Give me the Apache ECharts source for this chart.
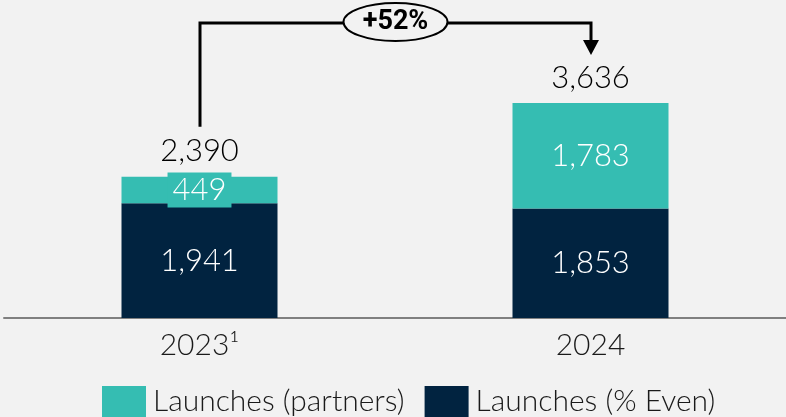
<!DOCTYPE html>
<html>
<head>
<meta charset="utf-8">
<script src="https://cdn.jsdelivr.net/npm/echarts@6/dist/echarts.min.js"></script>
<style>
  html, body { margin: 0; padding: 0; background: #f2f2f2; }
  #main { width: 786px; height: 417px; }
</style>
</head>
<body>
<div id="main"></div>
<script>
// chart data
const years = ['2023¹', '2024'];
const evenLaunches = [1941, 1853];
const partnerLaunches = [449, 1783];
const totals = [2390, 3636];
const growthLabel = '+52%';

const teal = '#35bdb2';
const navy = '#012340';
const font = 'Lato';

const fmt = v => v.toLocaleString('en-US');

const myChart = echarts.init(document.getElementById('main'));

const option = {
  backgroundColor: '#f2f2f2',
  animation: false,
  grid: { left: 4, right: 0, top: 0, bottom: 99 },
  legend: {
    left: 97,
    top: 381,
    itemWidth: 44,
    itemHeight: 31,
    itemGap: 20,
    icon: 'rect',
    data: ['Launches (partners)', 'Launches (% Even)'],
    textStyle: { fontFamily: font, fontWeight: 300, fontSize: 30, color: '#1a1a1a', padding: [0, 0, 0, 2] }
  },
  xAxis: {
    type: 'category',
    data: years,
    axisLine: { lineStyle: { color: '#808080', width: 2 } },
    axisTick: { show: false },
    axisLabel: { margin: 12, fontFamily: font, fontWeight: 300, fontSize: 30, color: '#1a1a1a' }
  },
  yAxis: {
    type: 'value',
    min: 0,
    max: 5380,
    show: false,
    splitLine: { show: false }
  },
  series: [
    {
      name: 'Launches (% Even)',
      type: 'bar',
      stack: 'all',
      barWidth: 156,
      itemStyle: { color: navy },
      data: evenLaunches,
      label: {
        show: true,
        position: 'inside',
        formatter: p => fmt(p.value),
        fontFamily: font, fontWeight: 300, fontSize: 31, color: '#ffffff'
      }
    },
    {
      name: 'Launches (partners)',
      type: 'bar',
      stack: 'all',
      barWidth: 156,
      itemStyle: { color: teal },
      data: partnerLaunches.map((v, i) => i === 0 ? {
        value: v,
        label: { backgroundColor: teal, padding: [2, 5, 0, 5], lineHeight: 33 }
      } : v),
      label: {
        show: true,
        position: 'inside',
        formatter: p => fmt(p.value),
        fontFamily: font, fontWeight: 300, fontSize: 31, color: '#ffffff'
      }
    },
    {
      name: 'total',
      type: 'scatter',
      symbolSize: 0,
      itemStyle: { opacity: 1 },
      data: totals,
      label: {
        show: true,
        position: 'top',
        distance: 10,
        opacity: 1,
        formatter: p => fmt(p.value),
        fontFamily: font, fontWeight: 300, fontSize: 31, color: '#000000'
      }
    }
  ]
};

myChart.setOption(option);

// growth bracket, anchored to the bars via the chart's own scales
const p0 = myChart.convertToPixel({ seriesIndex: 0 }, [0, totals[0]]);
const p1 = myChart.convertToPixel({ seriesIndex: 0 }, [1, totals[1]]);
const yTop = 23;
const x0 = Math.round(p0[0]);
const x1 = Math.round(p1[0]);
const midX = (x0 + x1) / 2;
myChart.setOption({
  graphic: [
    {
      type: 'polyline',
      shape: { points: [[x0, p0[1] - 50], [x0, yTop], [x1, yTop], [x1, 42]] },
      style: { stroke: '#000', lineWidth: 3, fill: null }
    },
    {
      type: 'polygon',
      shape: { points: [[x1 - 8, 40], [x1 + 8, 40], [x1, 55]] },
      style: { fill: '#000' }
    },
    {
      type: 'ellipse',
      shape: { cx: midX, cy: 22, rx: 52, ry: 19 },
      style: { fill: '#f2f2f2', stroke: '#000', lineWidth: 2 }
    },
    {
      type: 'text',
      x: midX,
      y: 22,
      style: {
        text: growthLabel,
        align: 'center',
        verticalAlign: 'middle',
        fontFamily: 'Roboto',
        fontWeight: 'bold',
        fontSize: 27,
        fill: '#000'
      }
    }
  ]
});
</script>
</body>
</html>
